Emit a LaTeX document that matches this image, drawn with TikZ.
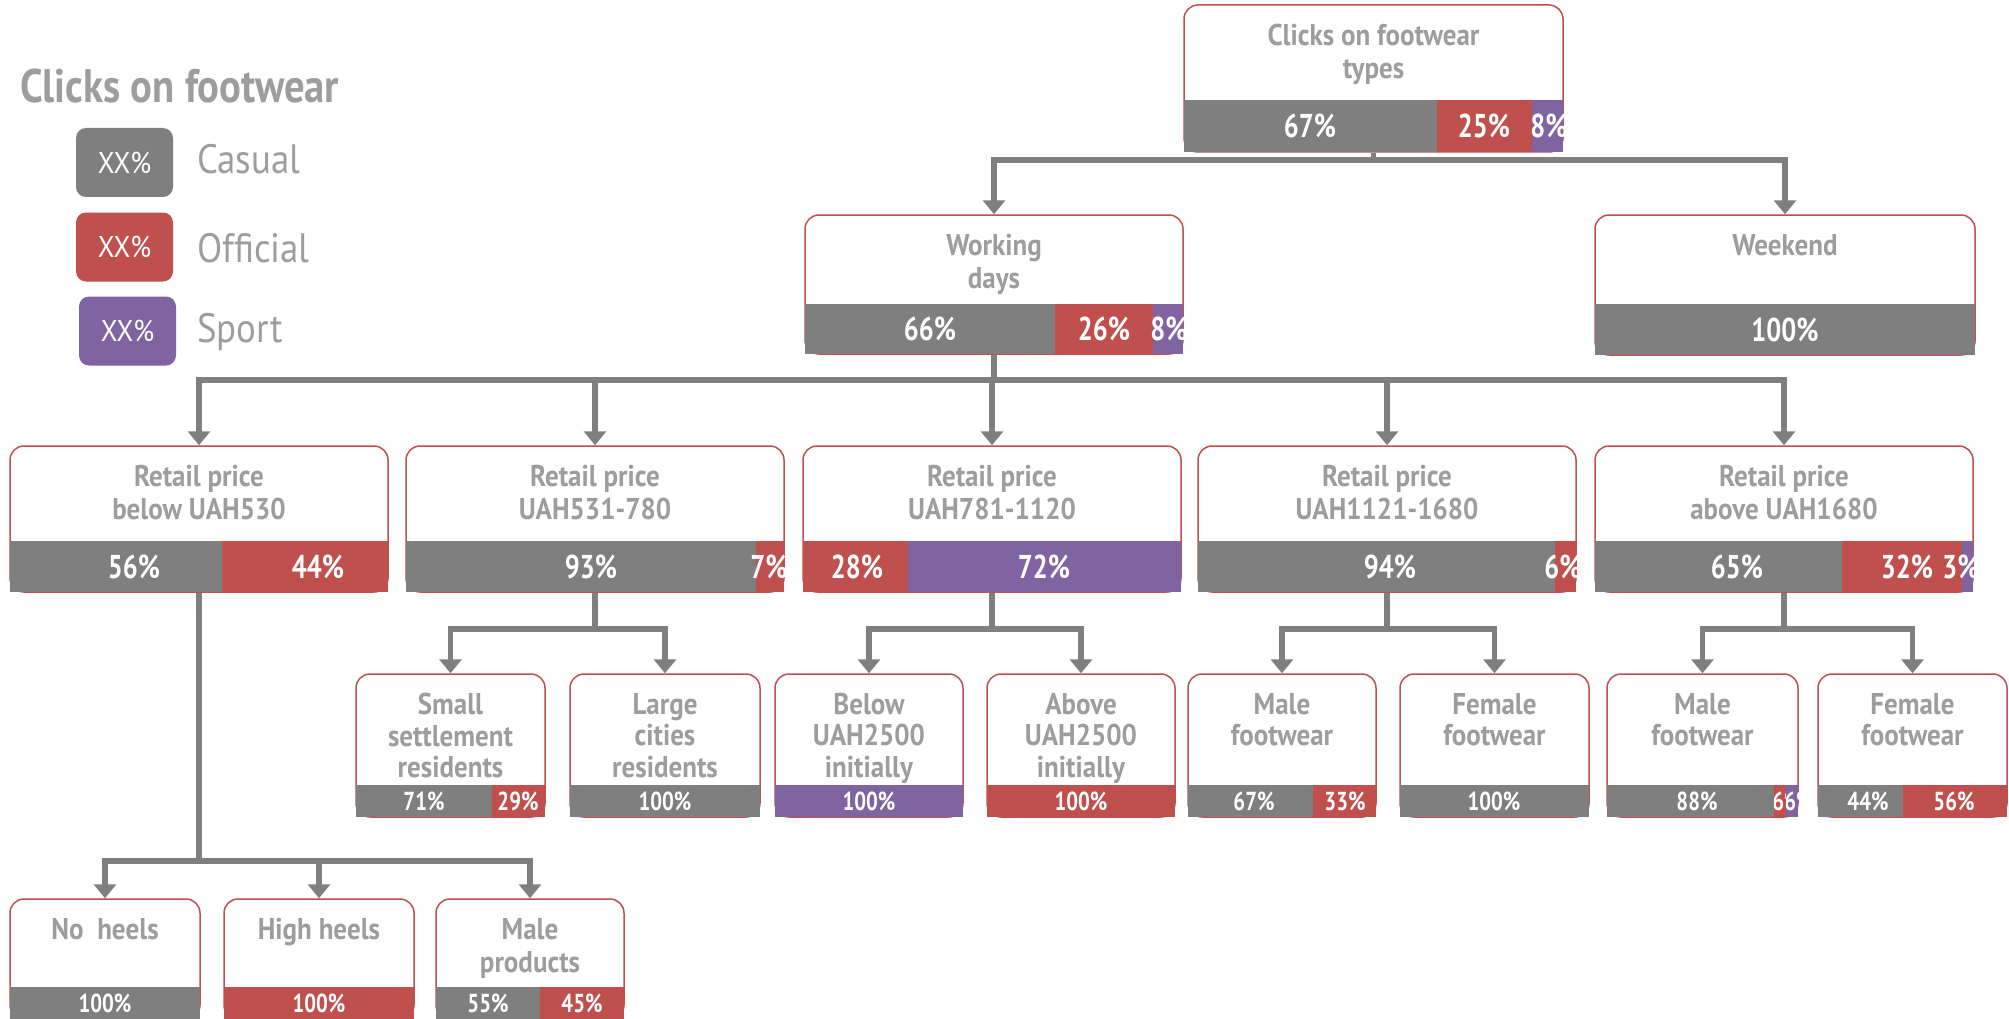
\documentclass[tikz,border=0pt]{standalone}
\usepackage{fontspec}
\setmainfont{PT Sans}[FakeStretch=0.8]
\newfontfamily\widefont{PT Sans}[FakeStretch=0.9]
\newfontfamily\titlefont{PT Sans}[FakeStretch=0.865]
\usetikzlibrary{arrows.meta,fit}
\definecolor{cgray}{HTML}{7F7F7F}
\definecolor{cred}{HTML}{C0504D}
\definecolor{cpurple}{HTML}{8064A2}
\definecolor{ctext}{HTML}{9D9D9D}
\tikzset{
  card/.style={draw=cred, line width=1.5pt, rounded corners=14pt, inner sep=0pt, fill=white},
  lbl/.style={anchor=north, inner sep=0pt, align=center, text=ctext, font=\widefont\bfseries\fontsize{30}{33}\selectfont},
  slbl/.style={lbl, font=\widefont\bfseries\fontsize{30}{31.4}\selectfont},
  bartxt/.style={inner sep=0pt, text=white, font=\bfseries\fontsize{33}{36}\selectfont},
  sbartxt/.style={inner sep=0pt, text=white, font=\bfseries\fontsize{26}{28}\selectfont},
  conn/.style={draw=cgray, line width=5.5pt, -{Triangle[width=22pt,length=14pt]}},
  legbox/.style={rounded corners=10pt, minimum width=97pt, minimum height=69pt, inner sep=0pt, text=white, font=\widefont\fontsize{30}{30}\selectfont},
  leglbl/.style={anchor=base west, inner sep=0pt, text=ctext, font=\widefont\fontsize{41}{44}\selectfont},
}
% name, x1, x2, ytop, ybottom, text, label style
\newcommand\card[7][lbl]{%
  \node[card, fit={(#3,#5) (#4,#6)}] (#2) {};
  \node[#1] (#2t) at ({(#3+#4)/2},{#5+19}) {#7};}
% name, style, x1, x2, colour, text, text x
\newcommand\seg[7]{%
  \fill[#5] (#3,\ya) rectangle (#4,\yb);
  \node[#2] (#1) at (#7,{(\ya+\yb)/2}) {#6};}
\begin{document}
\begin{tikzpicture}[x=1pt,y=-1pt]
\useasboundingbox (0,0) rectangle (2009,1019);
\fill[white] (0,0) rectangle (2009,1019);

% legend
\node[anchor=base west, inner sep=0pt, text=ctext, font=\titlefont\bfseries\fontsize{47}{50}\selectfont] (title) at (20,103) {Clicks on footwear};
\node[legbox, fill=cgray] (lg1) at (124.5,162.5) {XX\%};
\node[legbox, fill=cred] (lg2) at (124.5,247) {XX\%};
\node[legbox, fill=cpurple] (lg3) at (127.5,331) {XX\%};
\node[leglbl] (ll1) at (197,174) {Casual};
\node[leglbl] (ll2) at (197,262) {Official};
\node[leglbl] (ll3) at (197,342) {Sport};

% cards
\card{n0}{1184}{1563}{5}{152}{Clicks on footwear\\types}
\card{nw}{805}{1183}{215}{354}{Working\\days}
\card{ne}{1595}{1975}{215}{355}{Weekend}
\card{r1}{10}{388}{446}{592}{Retail price\\below UAH530}
\card{r2}{406}{784}{446}{592}{Retail price\\UAH531-780}
\card{r3}{803}{1181}{446}{592}{Retail price\\UAH781-1120}
\card{r4}{1198}{1576}{446}{592}{Retail price\\UAH1121-1680}
\card{r5}{1595}{1973}{446}{592}{Retail price\\above UAH1680}
\card[slbl]{s1}{356}{545}{674}{817}{Small\\settlement\\residents}
\card[slbl]{s2}{570}{760}{674}{817}{Large\\cities\\residents}
\card[slbl]{s3}{775}{963}{674}{817}{Below\\UAH2500\\initially}
\card[slbl]{s4}{987}{1175}{674}{817}{Above\\UAH2500\\initially}
\card[slbl]{s5}{1188}{1376}{674}{817}{Male\\footwear}
\card[slbl]{s6}{1400}{1589}{674}{817}{Female\\footwear}
\card[slbl]{s7}{1607}{1798}{674}{817}{Male\\footwear}
\card[slbl]{s8}{1818}{2007}{674}{817}{Female\\footwear}
\card{h1}{10}{200}{899}{1019}{No\ \ heels}
\card{h2}{224}{414}{899}{1019}{High heels}
\card{h3}{436}{624}{899}{1019}{Male\\products}

% bars
\def\ya{100}\def\yb{152}
\begin{scope}\clip (1184,\ya) rectangle (1563,\yb);
\seg{b0a}{bartxt}{1184}{1437}{cgray}{67\%}{1310}
\seg{b0b}{bartxt}{1437}{1532}{cred}{25\%}{1484}
\seg{b0c}{bartxt}{1532}{1563}{cpurple}{8\%}{1549}
\end{scope}
\def\ya{304}\def\yb{354}
\begin{scope}\clip (805,\ya) rectangle (1183,\yb);
\seg{bwa}{bartxt}{805}{1055}{cgray}{66\%}{930}
\seg{bwb}{bartxt}{1055}{1153}{cred}{26\%}{1104}
\seg{bwc}{bartxt}{1153}{1183}{cpurple}{8\%}{1169}
\end{scope}
\def\ya{304}\def\yb{355}
\seg{bea}{bartxt}{1595}{1975}{cgray}{100\%}{1785}

\def\ya{541}\def\yb{592}
\seg{b1a}{bartxt}{10}{222}{cgray}{56\%}{134}
\seg{b1b}{bartxt}{222}{388}{cred}{44\%}{318}
\begin{scope}\clip (406,\ya) rectangle (784,\yb);
\seg{b2a}{bartxt}{406}{756}{cgray}{93\%}{591}
\seg{b2b}{bartxt}{756}{784}{cred}{7\%}{769}
\end{scope}
\seg{b3a}{bartxt}{803}{908}{cred}{28\%}{857}
\seg{b3b}{bartxt}{908}{1181}{cpurple}{72\%}{1044}
\begin{scope}\clip (1198,\ya) rectangle (1576,\yb);
\seg{b4a}{bartxt}{1198}{1555}{cgray}{94\%}{1390}
\seg{b4b}{bartxt}{1555}{1576}{cred}{6\%}{1563}
\end{scope}
\begin{scope}\clip (1595,\ya) rectangle (1973,\yb);
\seg{b5a}{bartxt}{1595}{1842}{cgray}{65\%}{1737}
\seg{b5b}{bartxt}{1842}{1962}{cred}{32\%}{1907}
\seg{b5c}{bartxt}{1962}{1973}{cpurple}{3\%}{1961}
\end{scope}

\def\ya{785}\def\yb{817}
\seg{c1a}{sbartxt}{356}{492}{cgray}{71\%}{424}
\seg{c1b}{sbartxt}{492}{545}{cred}{29\%}{518}
\seg{c2a}{sbartxt}{570}{760}{cgray}{100\%}{665}
\seg{c3a}{sbartxt}{775}{963}{cpurple}{100\%}{869}
\seg{c4a}{sbartxt}{987}{1175}{cred}{100\%}{1081}
\seg{c5a}{sbartxt}{1188}{1313}{cgray}{67\%}{1254}
\seg{c5b}{sbartxt}{1313}{1376}{cred}{33\%}{1345}
\seg{c6a}{sbartxt}{1400}{1589}{cgray}{100\%}{1494}
\seg{c7a}{sbartxt}{1607}{1774}{cgray}{88\%}{1697}
\begin{scope}\clip (1774,\ya) rectangle (1786,\yb);
\seg{c7b}{sbartxt}{1774}{1786}{cred}{6\%}{1787}
\end{scope}
\begin{scope}\clip (1786,\ya) rectangle (1798,\yb);
\seg{c7c}{sbartxt}{1786}{1798}{cpurple}{6\%}{1799}
\end{scope}
\seg{c8a}{sbartxt}{1818}{1903}{cgray}{44\%}{1868}
\seg{c8b}{sbartxt}{1903}{2007}{cred}{56\%}{1954}

\def\ya{987}\def\yb{1019}
\seg{d1a}{sbartxt}{10}{200}{cgray}{100\%}{105}
\seg{d2a}{sbartxt}{224}{414}{cred}{100\%}{319}
\seg{d3a}{sbartxt}{436}{540}{cgray}{55\%}{488}
\seg{d3b}{sbartxt}{540}{624}{cred}{45\%}{582}

% connectors
\coordinate (j0) at (0,160);
\coordinate (j1) at (0,380);
\coordinate (j2) at (0,629);
\coordinate (j3) at (0,861);
\foreach \c in {nw,ne} \draw[conn] (n0.south) -- (n0.south |- j0) -| (\c.north);
\foreach \c in {r1,r2,r3,r4,r5} \draw[conn] (nw.south) -- (nw.south |- j1) -| (\c.north);
\foreach \c in {s1,s2} \draw[conn] (r2.south) -- (r2.south |- j2) -| (\c.north);
\foreach \c in {s3,s4} \draw[conn] (r3.south) -- (r3.south |- j2) -| (\c.north);
\foreach \c in {s5,s6} \draw[conn] (r4.south) -- (r4.south |- j2) -| (\c.north);
\foreach \c in {s7,s8} \draw[conn] (r5.south) -- (r5.south |- j2) -| (\c.north);
\foreach \c in {h1,h2,h3} \draw[conn] (r1.south) -- (r1.south |- j3) -| (\c.north);
\end{tikzpicture}
\end{document}
